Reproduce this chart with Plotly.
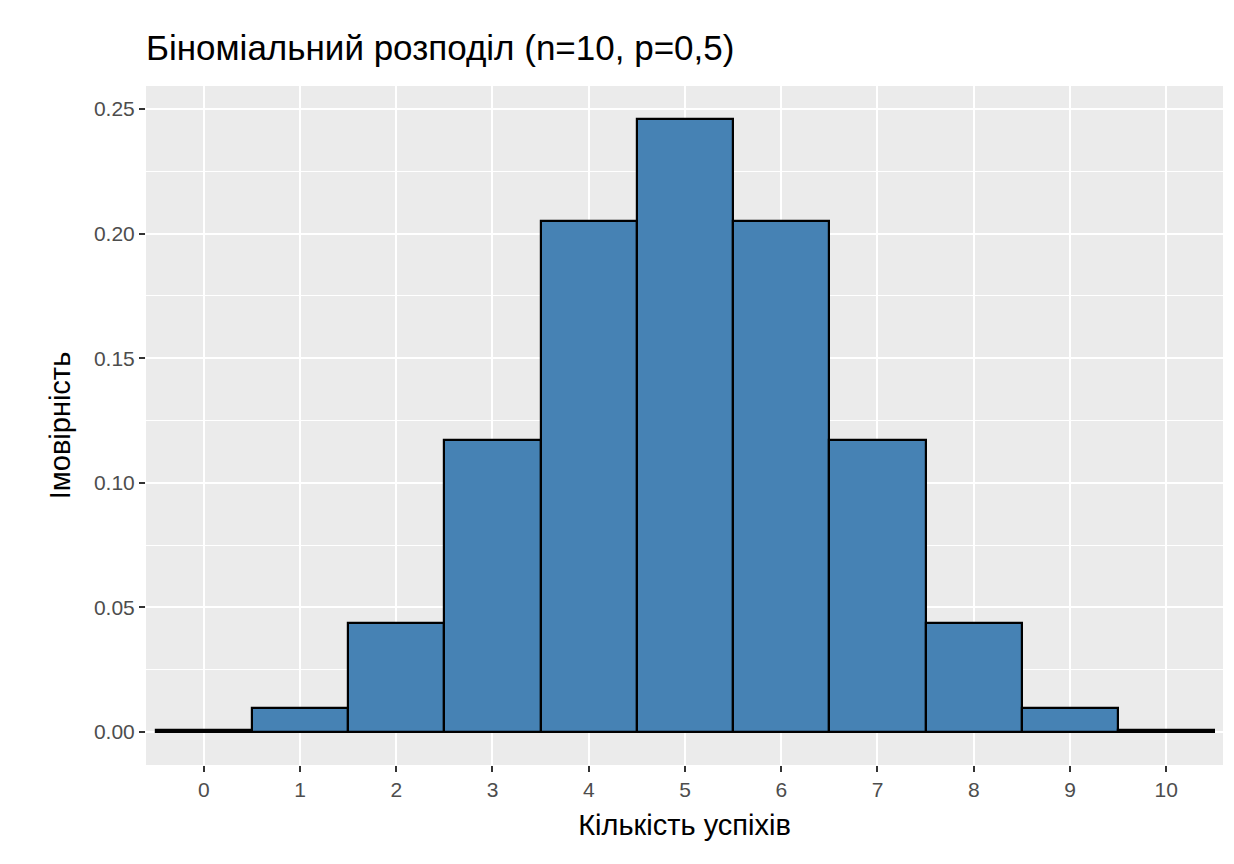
import plotly.graph_objects as go

successes = list(range(11))
probability = [0.000977, 0.00977, 0.0439, 0.117, 0.205, 0.246, 0.205, 0.117, 0.0439, 0.00977, 0.000977]
y_ticks = [0.0, 0.05, 0.10, 0.15, 0.20, 0.25]
y_tick_labels = ["0.00", "0.05", "0.10", "0.15", "0.20", "0.25"]

fig = go.Figure(go.Bar(
    x=successes, y=probability, width=1,
    marker=dict(color="#4682B4", line=dict(color="black", width=2.2)),
))

fig.update_layout(
    width=1234, height=864,
    paper_bgcolor="white", plot_bgcolor="#EBEBEB",
    margin=dict(l=138, r=19, t=78, b=107),
    font=dict(family="Liberation Sans, Arial", color="#4D4D4D", size=21),
    title=dict(text="Біноміальний розподіл (n=10, p=0,5)", x=138/1234, xanchor="left",
               y=1-40/864, yanchor="middle", font=dict(size=35, color="black")),
    showlegend=False, bargap=0,
    xaxis=dict(range=[-0.6, 10.59], tickmode="array", tickvals=successes,
               showgrid=True, gridcolor="white", gridwidth=2.2, zeroline=False,
               ticks="outside", ticklen=6, tickcolor="#333333", tickwidth=1.5,
               minor=dict(showgrid=False),
               title=dict(text="Кількість успіхів", font=dict(size=29, color="black"), standoff=14)),
    yaxis=dict(range=[-0.0132, 0.2592], tickmode="array", tickvals=y_ticks, ticktext=y_tick_labels,
               showgrid=True, gridcolor="white", gridwidth=2.2, zeroline=False,
               ticks="outside", ticklen=6, tickcolor="#333333", tickwidth=1.5,
               minor=dict(dtick=0.025, tick0=0.025, showgrid=True, gridcolor="white", gridwidth=1, ticks=""),
               title=dict(text="Імовірність", font=dict(size=29, color="black"), standoff=14)),
)

fig.write_html("out.html")
